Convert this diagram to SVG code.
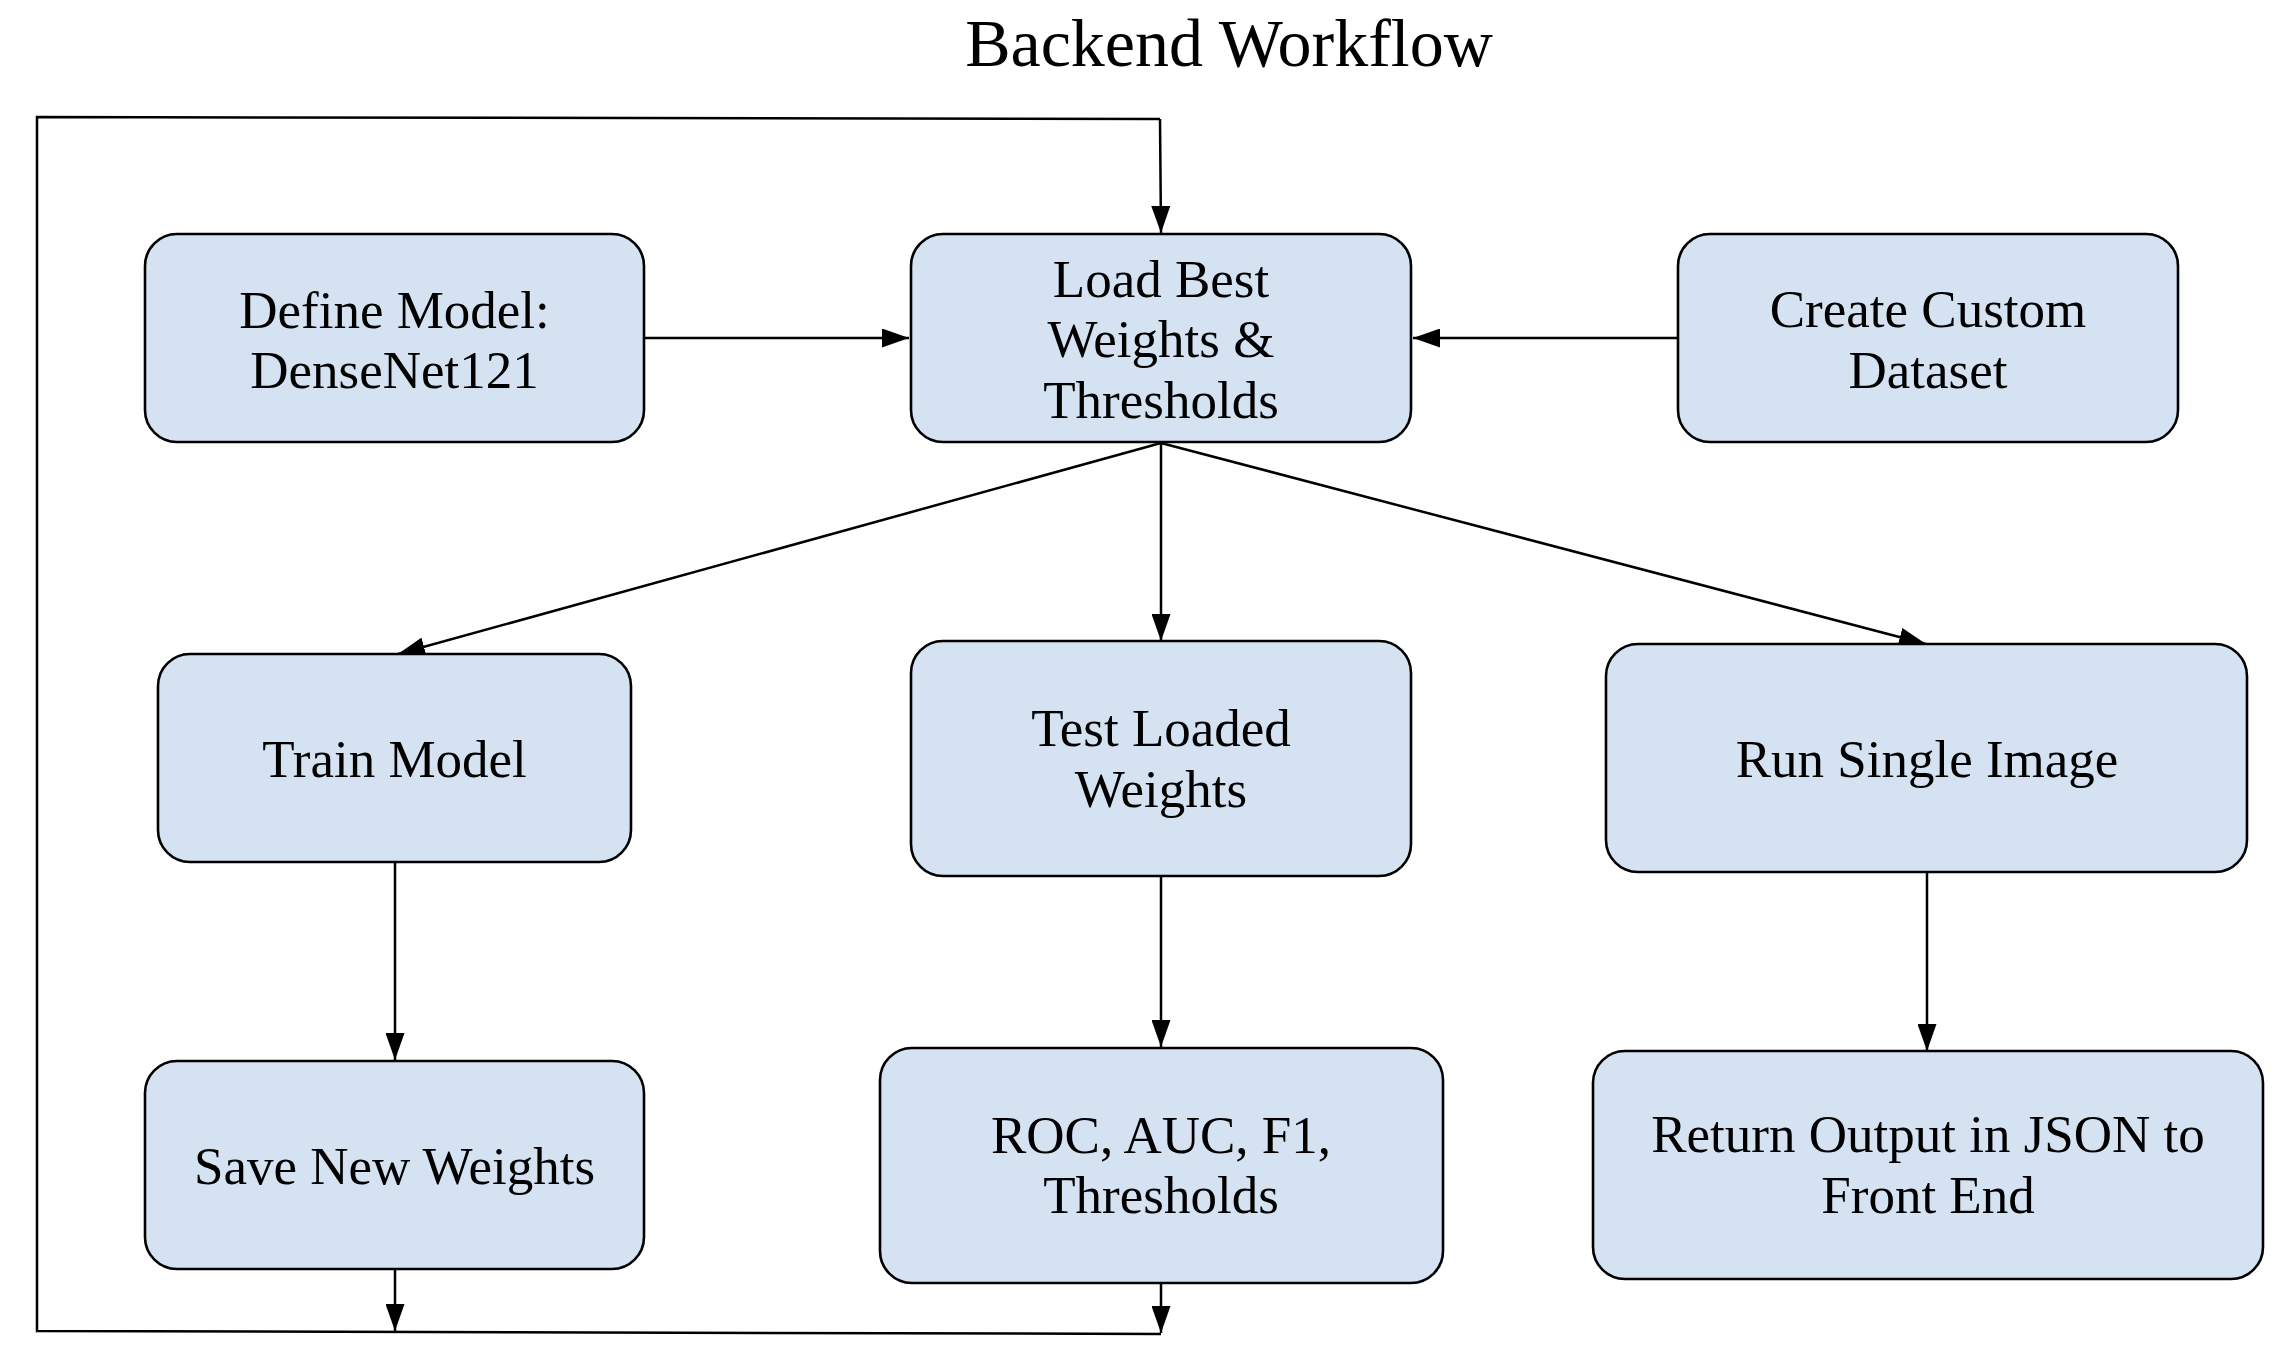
<svg xmlns="http://www.w3.org/2000/svg" width="2294" height="1370" viewBox="0 0 2294 1370">
<style>
.box{fill:#d4e2f2;stroke:#000;stroke-width:2.6}
.t{font-family:"Liberation Serif","DejaVu Serif",serif;font-size:53px;fill:#000;text-anchor:middle}
.title{font-family:"Liberation Serif","DejaVu Serif",serif;font-size:68px;fill:#000;text-anchor:middle}
.c{fill:none;stroke:#000;stroke-width:2.5}
</style>
<defs>
<marker id="ah" markerWidth="27" markerHeight="19" refX="27" refY="9.5" orient="auto" markerUnits="userSpaceOnUse">
<path d="M0,0 L27,9.5 L0,19 Z" fill="#000"/>
</marker>
</defs>
<rect width="2294" height="1370" fill="#fff"/>
<text class="title" x="1229" y="66">Backend Workflow</text>
<g id="connectors">
<path class="c" d="M1160,119 L37,117 L37,1331 L1161,1334"/>
<path class="c" d="M1160,119 L1161,233" marker-end="url(#ah)"/>
<path class="c" d="M644,338 L909,338" marker-end="url(#ah)"/>
<path class="c" d="M1678,338 L1413,338" marker-end="url(#ah)"/>
<path class="c" d="M1161,443 L398,654" marker-end="url(#ah)"/>
<path class="c" d="M1161,443 L1161,641" marker-end="url(#ah)"/>
<path class="c" d="M1161,443 L1926,644" marker-end="url(#ah)"/>
<path class="c" d="M395,862 L395,1060" marker-end="url(#ah)"/>
<path class="c" d="M1161,876 L1161,1047" marker-end="url(#ah)"/>
<path class="c" d="M1927,872 L1927,1051" marker-end="url(#ah)"/>
<path class="c" d="M395,1269 L395,1331" marker-end="url(#ah)"/>
<path class="c" d="M1161,1283 L1161,1333" marker-end="url(#ah)"/>
</g>
<g id="define-model">
<rect class="box" x="145" y="234" width="499" height="208" rx="32"/>
<text class="t" x="394.5" y="328">Define Model:</text>
<text class="t" x="394.5" y="388">DenseNet121</text>
</g>
<g id="load-best">
<rect class="box" x="911" y="234" width="500" height="208" rx="32"/>
<text class="t" x="1161" y="297">Load Best</text>
<text class="t" x="1161" y="357">Weights &amp;</text>
<text class="t" x="1161" y="418">Thresholds</text>
</g>
<g id="create-dataset">
<rect class="box" x="1678" y="234" width="500" height="208" rx="32"/>
<text class="t" x="1928" y="327">Create Custom</text>
<text class="t" x="1928" y="388">Dataset</text>
</g>
<g id="train-model">
<rect class="box" x="158" y="654" width="473" height="208" rx="32"/>
<text class="t" x="394.5" y="777">Train Model</text>
</g>
<g id="test-loaded">
<rect class="box" x="911" y="641" width="500" height="235" rx="32"/>
<text class="t" x="1161" y="746">Test Loaded</text>
<text class="t" x="1161" y="807">Weights</text>
</g>
<g id="run-single">
<rect class="box" x="1606" y="644" width="641" height="228" rx="32"/>
<text class="t" x="1927" y="777">Run Single Image</text>
</g>
<g id="save-weights">
<rect class="box" x="145" y="1061" width="499" height="208" rx="32"/>
<text class="t" x="394.5" y="1184">Save New Weights</text>
</g>
<g id="roc-auc">
<rect class="box" x="880" y="1048" width="563" height="235" rx="32"/>
<text class="t" x="1161" y="1153">ROC, AUC, F1,</text>
<text class="t" x="1161" y="1213">Thresholds</text>
</g>
<g id="return-output">
<rect class="box" x="1593" y="1051" width="670" height="228" rx="32"/>
<text class="t" x="1928" y="1152">Return Output in JSON to</text>
<text class="t" x="1928" y="1213">Front End</text>
</g>
</svg>
